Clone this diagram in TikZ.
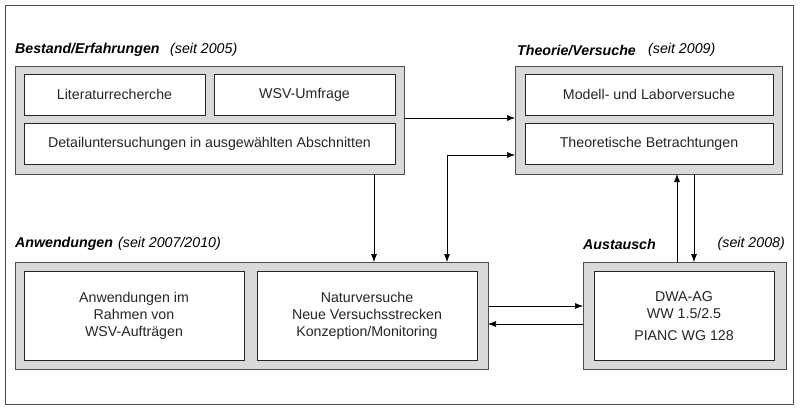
\documentclass[tikz,border=0pt]{standalone}
\usepackage{fontspec}
\setmainfont{Liberation Sans}
\usetikzlibrary{arrows.meta}
\definecolor{grp}{HTML}{D9D9D9}
\begin{document}
\begin{tikzpicture}[x=1pt,y=-1pt,
  group/.style={draw=black!70,fill=grp,line width=0.8pt},
  box/.style={draw=black!85,fill=white,line width=0.6pt},
  txt/.style={font=\fontsize{14.2}{17}\selectfont,align=center,text=black!85},
  ttl/.style={font=\fontsize{14.2}{17}\selectfont\bfseries\itshape,anchor=west,inner sep=0},
  yr/.style={font=\fontsize{14.2}{17}\selectfont\itshape,anchor=west,inner sep=0},
  arr/.style={-{Latex[length=8pt,width=6pt]},line width=0.6pt}]
\useasboundingbox (0,0) rectangle (800,410);
\draw[line width=0.8pt,draw=black!70] (5,5) rectangle (793,404);
% Bestand
\node[ttl] (t1) at (15,50) {Bestand/Erfahrungen};
\node[yr] (y1) at (170,50) {(seit 2005)};
\draw[group] (15,66) rectangle (404,174);
\draw[box] (24,74) rectangle (205,115);
\node[txt] (lit) at (114.5,94.5) {Literaturrecherche};
\draw[box] (214,74) rectangle (395,115);
\node[txt] (wsv) at (304.5,94.5) {WSV-Umfrage};
\draw[box] (24,123) rectangle (395,164);
\node[txt] (det) at (209.5,143.5) {Detailuntersuchungen in ausgewählten Abschnitten};
% Theorie
\node[ttl] (t2) at (517,50) {Theorie/Versuche};
\node[yr] (y2) at (648,50) {(seit 2009)};
\draw[group] (515,66) rectangle (782,174);
\draw[box] (525,74) rectangle (773,115);
\node[txt] (mod) at (649,94.5) {Modell- und Laborversuche};
\draw[box] (525,123) rectangle (773,164);
\node[txt] (the) at (649,143.5) {Theoretische Betrachtungen};
% Anwendungen
\node[ttl] (t3) at (15,244) {Anwendungen};
\node[yr] (y3) at (118,244) {(seit 2007/2010)};
\draw[group] (15,262) rectangle (488,369);
\draw[box] (24,271) rectangle (244,360);
\node[txt] (anw) at (134,315.5) {Anwendungen im\\Rahmen von\\WSV-Aufträgen};
\draw[box] (257,271) rectangle (477,360);
\node[txt] (nat) at (367,315.5) {Naturversuche\\Neue Versuchsstrecken\\Konzeption/Monitoring};
% Austausch
\node[ttl] (t4) at (583,244) {Austausch};
\node[yr,anchor=east] (y4) at (785,244) {(seit 2008)};
\draw[group] (583,262) rectangle (786,369);
\draw[box] (594,271) rectangle (774,360);
\node[txt] (dwa) at (684,316) {DWA-AG\\WW 1.5/2.5\\[5pt]PIANC WG 128};
% arrows
\coordinate (a1) at (374,174); \coordinate (a2) at (374,262);
\draw[arr] (a1) -- (a2);
\coordinate (b1) at (404,118); \coordinate (b2) at (515,118);
\draw[arr] (b1) -- (b2);
\coordinate (c1) at (515,155); \coordinate (c2) at (447,262);
\draw[arr,{Latex[length=8pt,width=6pt]}-{Latex[length=8pt,width=6pt]}] (c1) -- (447,155) -- (c2);
\coordinate (d1) at (677,262); \coordinate (d2) at (677,174);
\draw[arr] (d1) -- (d2);
\coordinate (e1) at (694,174); \coordinate (e2) at (694,262);
\draw[arr] (e1) -- (e2);
\coordinate (f1) at (488,306); \coordinate (f2) at (583,306);
\draw[arr] (f1) -- (f2);
\coordinate (g1) at (583,324); \coordinate (g2) at (488,324);
\draw[arr] (g1) -- (g2);
\end{tikzpicture}
\end{document}
